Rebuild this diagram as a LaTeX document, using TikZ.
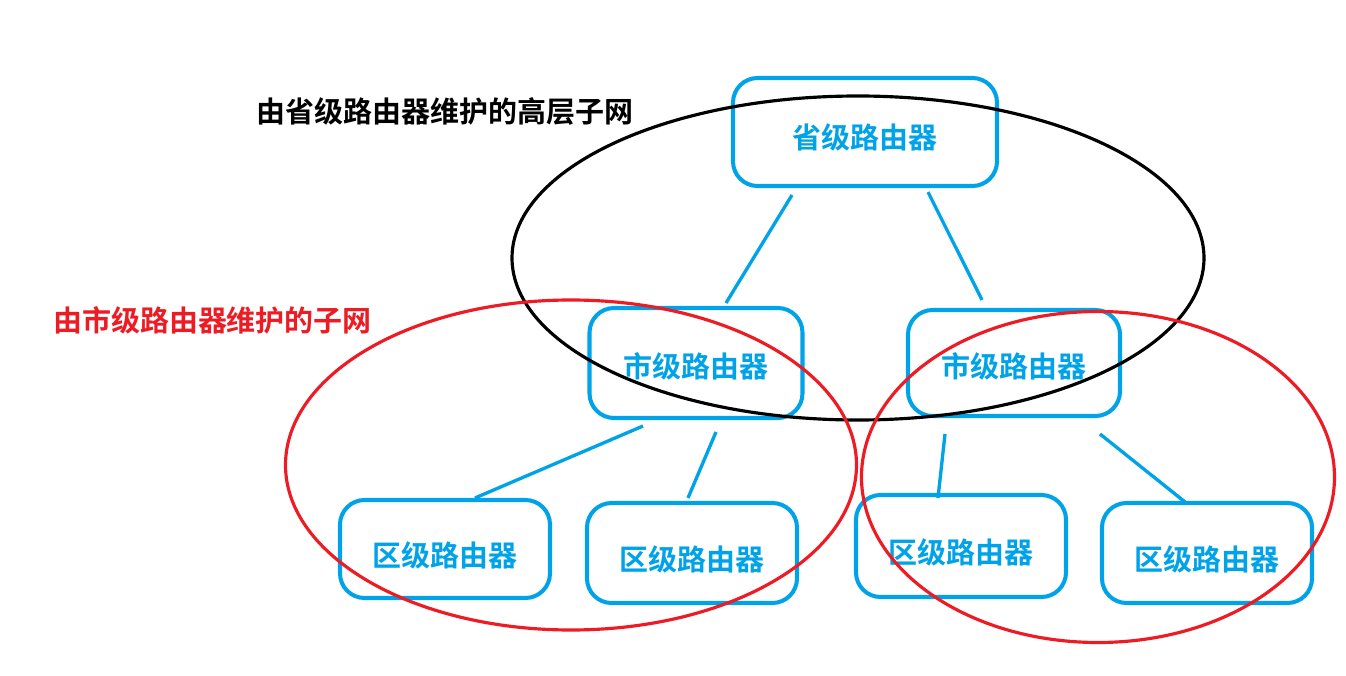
\documentclass[tikz,border=0pt]{standalone}
\usepackage{fontspec}
\newfontfamily\cjk{Noto Sans CJK SC}[BoldFont={Noto Sans CJK SC Bold}]
\usetikzlibrary{positioning}
\definecolor{lanse}{HTML}{00A2E8}
\definecolor{hongse}{HTML}{ED1C24}

\begin{document}
\begin{tikzpicture}[
  caixa/.style={draw=lanse, line width=2.3pt, rounded corners=14pt, align=center,
                font=\cjk\bfseries\fontsize{16.5}{20}\selectfont, text=lanse,
                minimum width=#1, inner sep=0pt, text depth=2pt, text height=22pt},
  caixa/.default=4.2cm,
  liga/.style={lanse, line width=1.9pt},
  anel/.style={draw=#1, line width=1.8pt},
  rotulo/.style={font=\cjk\bfseries\fontsize{16.5}{20}\selectfont, text=#1},
]
\useasboundingbox (0,0) rectangle (26.92,13.5);
% ---- Nivel 1: roteador provincial
\node[caixa=5.28cm, minimum height=2.16cm, text height=21pt] (prov) at (17.30,10.86) {省级路由器};

% ---- Nivel 2: roteadores municipais
\node[caixa=4.26cm, minimum height=2.2cm, text height=18pt] (cidE) at (13.92,6.24) {市级路由器};
\node[caixa=4.24cm, minimum height=2.12cm, text height=18pt] (cidD) at (20.28,6.24) {市级路由器};

% ---- Nivel 3: roteadores distritais
\node[caixa, minimum height=1.96cm] (dis1) at (8.90,2.52) {区级路由器};
\node[caixa, minimum height=2.0cm] (dis2) at (13.84,2.44) {区级路由器};
\node[caixa, minimum height=2.04cm] (dis3) at (19.22,2.58) {区级路由器};
\node[caixa, minimum height=2.0cm] (dis4) at (24.14,2.44) {区级路由器};

% ---- Ligacoes
\draw[liga] ([xshift=-1.46cm, yshift=-0.14cm]prov.south) -- ([xshift=0.60cm, yshift=0.06cm]cidE.north);
\draw[liga] ([xshift=1.26cm, yshift=-0.08cm]prov.south) -- ([xshift=-0.64cm, yshift=0.16cm]cidD.north);
\draw[liga] ([xshift=-1.06cm, yshift=-0.12cm]cidE.south) -- ([xshift=0.60cm]dis1.north);
\draw[liga] ([xshift=0.40cm, yshift=-0.24cm]cidE.south) -- ([xshift=-0.08cm, yshift=0.06cm]dis2.north);
\draw[liga] ([xshift=-1.38cm, yshift=-0.32cm]cidD.south) -- ([xshift=-0.46cm, yshift=-0.10cm]dis3.north);
\draw[liga] ([xshift=1.72cm, yshift=-0.32cm]cidD.south) -- ([xshift=-0.44cm, yshift=-0.02cm]dis4.north);

% ---- Sub-redes
\draw[anel=black] (17.16,8.34) ellipse [x radius=6.92, y radius=3.24];
\draw[anel=hongse] (11.42,4.20) ellipse [x radius=5.71, y radius=3.30];
\draw[anel=hongse] (21.96,3.96) ellipse [x radius=4.73, y radius=3.31];

% ---- Rotulos
\node[rotulo=black] (tsup) at (8.90,11.26) {由省级路由器维护的高层子网};
\node[rotulo=hongse] (tinf) at (4.25,7.10) {由市级路由器维护的子网};
\end{tikzpicture}
\end{document}
